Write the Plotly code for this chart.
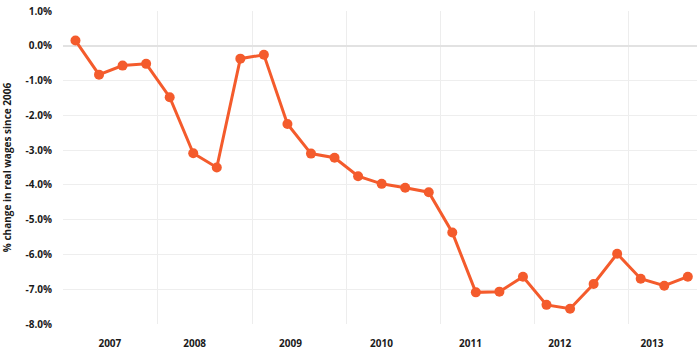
import plotly.graph_objects as go

quarters = [f"{y} Q{q}" for y in range(2007, 2014) for q in range(1, 5)][:27]
wage_change = [0.15, -0.83, -0.57, -0.52, -1.48, -3.09, -3.50, -0.37, -0.26, -2.25,
               -3.10, -3.22, -3.75, -3.97, -4.08, -4.21, -5.37, -7.09, -7.07, -6.64,
               -7.45, -7.56, -6.85, -5.98, -6.70, -6.90, -6.64]
year_labels = ["2007", "2008", "2009", "2010", "2011", "2012", "2013"]
year_label_pos = [1.46, 5.06, 9.13, 12.99, 16.77, 20.56, 24.48]
year_bounds = [-0.5, 3.5, 7.5, 11.5, 15.5, 19.5, 23.5]
y_ticks = [1, 0, -1, -2, -3, -4, -5, -6, -7, -8]

x = list(range(len(quarters)))
color = "#F45B2C"

fig = go.Figure()
fig.add_trace(go.Scatter(
    x=x, y=wage_change, text=quarters, mode="lines+markers",
    line=dict(color=color, width=3),
    marker=dict(color=color, size=10),
    hovertemplate="%{text}: %{y:.1f}%<extra></extra>",
))

font = dict(family="Open Sans, DejaVu Sans, sans-serif", size=10, color="#1a1a1a", weight="bold")

fig.update_layout(
    width=700, height=357,
    margin=dict(l=63, r=3, t=11, b=33),
    plot_bgcolor="white", paper_bgcolor="white",
    showlegend=False,
    font=font,
    xaxis=dict(
        automargin=False,
        range=[-0.53, 26.39],
        tickmode="array", tickvals=year_label_pos, ticktext=year_labels,
        showgrid=False, zeroline=False, showline=False, ticks="",
        ticklabelstandoff=12, tickfont=font,
        minor=dict(tickmode="array", tickvals=year_bounds, showgrid=True,
                   gridcolor="#ededed", gridwidth=1, ticks=""),
    ),
    yaxis=dict(
        automargin=False,
        range=[-8, 1],
        tickmode="array", tickvals=y_ticks,
        ticktext=[f"{v:.1f}%" for v in y_ticks],
        showgrid=True, gridcolor="#eeeeee", gridwidth=1,
        zeroline=True, zerolinecolor="#e2e2e2", zerolinewidth=2,
        showline=False, ticks="", ticklabelstandoff=10, tickfont=font,
        title=dict(text="% change in real wages since 2006", font=font, standoff=13),
    ),
)
fig.write_html("out.html", config={"displayModeBar": False},
               post_script="document.body.style.margin='0';document.body.style.overflow='hidden';")
